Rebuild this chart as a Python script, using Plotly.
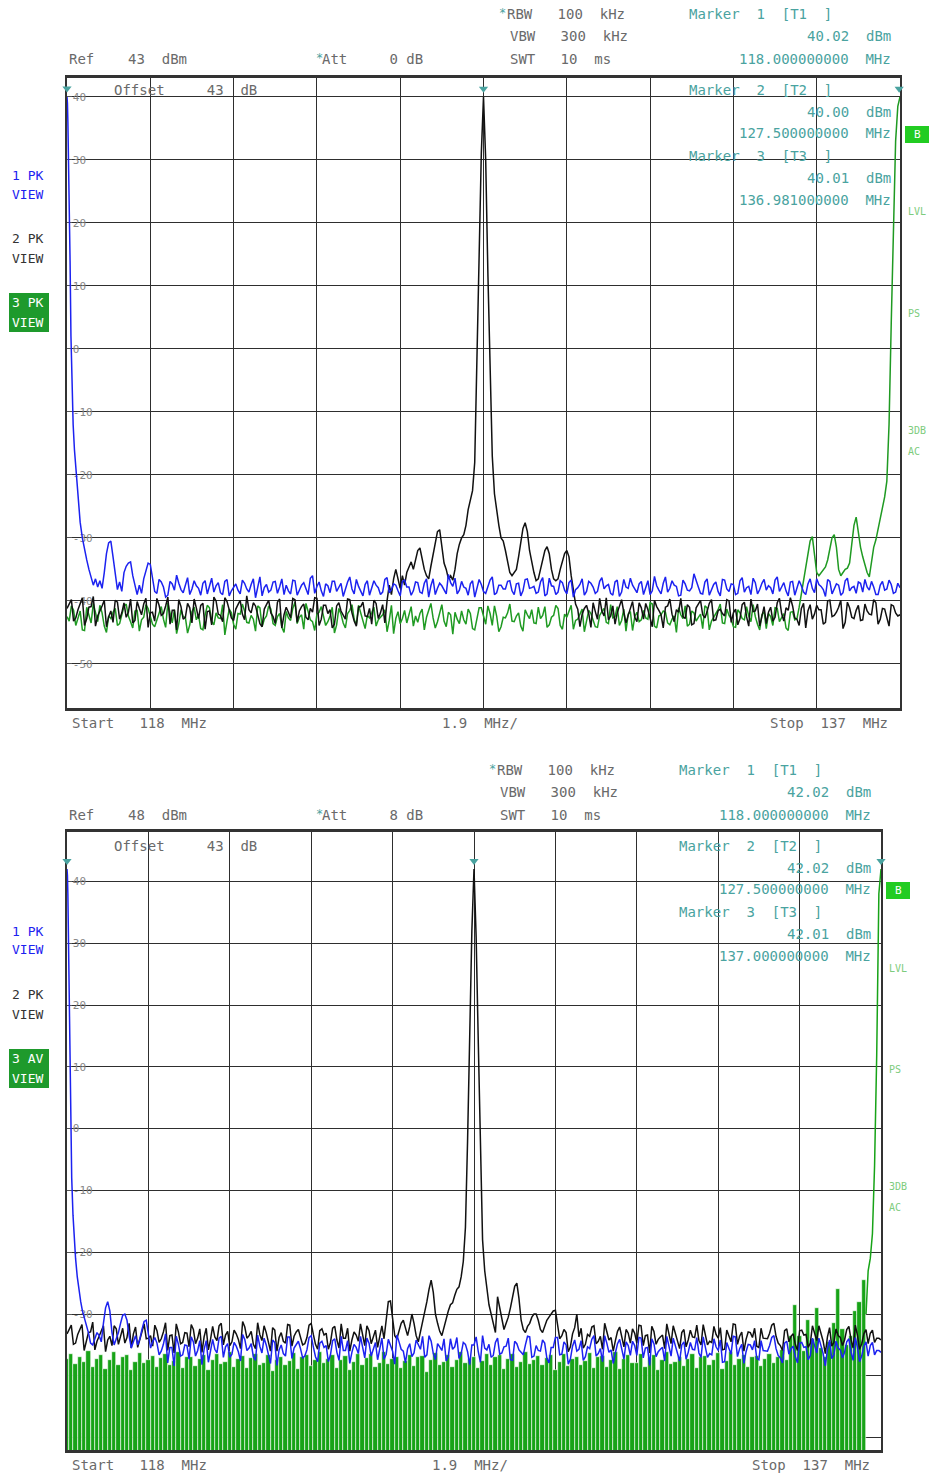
import plotly.graph_objects as go

# ======================= DATA =======================
START_MHZ = 118.0
STOP_MHZ = 137.0

# ---------- upper screen (Ref 43 dBm) : noise floors ----------
# *_floor: one value per 0.1 MHz (118.0 .. 137.0); *_mid: the reading half-way between them
top_blue_floor = [
    -38.2, -37.1, -38.9, -36.8, -37.9, -39.3, -37.4, -38.6, -36.5, -38.1,
    -37.7, -39.0, -36.9, -38.4, -37.2, -38.8, -36.3, -37.9, -39.4, -37.0,
    -38.5, -36.6, -37.8, -39.1, -37.3, -35.9, -38.2, -37.5, -39.0, -36.8,
    -38.0, -37.2, -38.9, -36.4, -37.6, -38.7, -36.9, -39.2, -37.8, -38.3,
    -36.7, -38.1, -37.4, -39.5, -36.2, -37.9, -38.6, -37.0, -38.8, -36.5,
    -37.5, -38.9, -36.8, -38.2, -37.1, -39.0, -36.0, -37.7, -38.4, -37.3,
    -38.7, -36.9, -37.8, -39.3, -37.0, -38.1, -36.6, -38.5, -37.4, -39.1,
    -36.8, -37.9, -38.6, -36.3, -38.2, -37.5, -39.2, -36.7, -37.8, -38.4,
    -37.1, -38.8, -36.5, -37.6, -39.0, -37.2, -38.3, -35.8, -37.7, -38.9,
    -36.9, -38.0, -37.3, -39.4, -36.6, -38.5, -37.8, -36.2, -38.7, -37.5,
    -38.1, -36.8, -39.0, -37.2, -38.4, -36.5, -37.9, -38.8, -37.0, -39.2,
    -36.4, -37.7, -38.6, -37.1, -38.9, -36.7, -38.2, -37.4, -39.1, -36.9,
    -37.8, -38.5, -36.3, -37.6, -38.8, -37.0, -39.3, -36.6, -38.0, -37.5,
    -38.7, -36.9, -37.9, -39.0, -36.1, -38.3, -37.2, -38.6, -36.8, -37.7,
    -39.1, -37.3, -38.4, -35.7, -37.8, -38.9, -36.5, -38.1, -37.0, -39.2,
    -36.7, -38.5, -37.4, -38.8, -36.3, -37.9, -39.0, -37.1, -38.2, -36.6,
    -37.6, -38.9, -36.2, -37.8, -38.4, -37.0, -39.1, -36.8, -38.6, -37.3,
    -38.0, -36.5, -37.7, -39.3, -36.9, -38.2, -37.5, -38.7, -36.4, -37.9,
    -38.8, -37.2, -36.6, -38.3, -37.8, -39.0, -36.9, -38.1, -37.4, -38.6,
    -37.9,
]
top_blue_mid = [
    -37.4, -38.7, -36.9, -39.2, -37.6, -38.1, -36.7, -39.0, -37.8, -38.5,
    -36.6, -38.2, -37.5, -39.3, -36.8, -38.0, -37.3, -38.9, -36.4, -37.9,
    -38.8, -37.0, -39.4, -36.9, -38.3, -37.2, -38.7, -36.3, -38.1, -37.6,
    -39.1, -36.8, -37.7, -38.6, -37.1, -39.0, -36.6, -38.4, -37.3, -38.9,
    -37.2, -38.6, -36.5, -38.0, -39.2, -37.4, -38.3, -36.9, -37.8, -39.0,
    -38.4, -36.7, -39.1, -37.5, -38.2, -36.4, -38.8, -37.0, -39.3, -37.6,
    -36.9, -38.5, -37.2, -38.1, -36.2, -38.9, -37.7, -39.2, -36.8, -38.0,
    -37.5, -39.0, -36.6, -38.7, -37.3, -38.4, -36.9, -37.8, -39.1, -37.0,
    -38.6, -37.2, -39.4, -36.5, -38.0, -37.6, -38.9, -37.1, -36.4, -38.3,
    -37.8, -39.1, -36.8, -38.2, -37.4, -38.8, -36.7, -39.0, -37.5, -38.1,
    -36.9, -38.4, -37.3, -39.2, -36.6, -38.0, -37.7, -38.6, -36.3, -38.9,
    -37.6, -39.0, -36.8, -38.3, -37.1, -39.4, -37.9, -36.5, -38.5, -37.2,
    -38.8, -36.9, -38.1, -37.4, -39.1, -36.7, -38.6, -37.8, -36.4, -38.2,
    -37.3, -39.0, -36.8, -38.4, -37.6, -38.9, -36.2, -38.0, -37.5, -39.2,
    -36.7, -38.3, -37.9, -36.9, -38.8, -37.0, -39.1, -37.4, -38.5, -36.6,
    -38.1, -37.3, -39.0, -36.8, -38.6, -37.7, -36.4, -38.9, -37.2, -38.3,
    -37.9, -36.7, -38.5, -37.1, -39.2, -36.9, -38.0, -37.6, -39.0, -36.5,
    -38.7, -37.4, -38.2, -36.6, -38.9, -37.3, -39.1, -36.8, -38.4, -37.7,
    -37.0, -38.6, -37.8, -36.9, -39.0, -37.5, -38.3, -36.7, -38.8, -37.2,
]
top_black_floor = [
    -41.2, -39.8, -42.7, -40.5, -43.9, -41.0, -39.3, -42.4, -40.8, -44.1,
    -41.6, -39.9, -42.9, -40.3, -41.8, -43.5, -40.1, -42.2, -39.6, -41.9,
    -43.2, -40.7, -42.0, -39.4, -41.5, -44.6, -40.9, -42.6, -41.1, -39.7,
    -42.8, -40.4, -41.7, -43.8, -40.0, -42.3, -39.5, -41.4, -43.1, -40.6,
    -42.1, -39.2, -41.9, -40.8, -43.6, -41.3, -39.9, -42.5, -40.2, -44.3,
    -41.0, -42.7, -39.8, -41.6, -40.5, -43.0, -41.8, -39.6, -42.9, -40.7,
    -41.4, -43.7, -40.3, -42.2, -39.7, -41.9, -44.0, -40.9, -42.4, -41.2,
    -39.9, -42.8, -40.6, -41.5, -43.3, -40.1, -42.0, -39.4, -41.7, -43.9,
    -40.8, -42.3, -41.1, -39.6, -42.6, -40.4, -43.4, -41.3, -40.0, -42.9,
    -41.7, -39.8, -42.4, -40.9, -44.2, -41.0, -42.1, -39.5, -41.8, -43.0,
    -40.6, -42.5, -41.3, -39.9, -43.5, -40.8, -42.2, -41.0, -39.7, -42.8,
    -41.9, -40.2, -43.1, -41.4, -39.8, -42.6, -40.5, -44.1, -41.2, -42.0,
    -40.3, -42.9, -41.6, -39.5, -42.4, -43.7, -40.7, -41.8, -42.3, -40.1,
    -43.3, -41.1, -40.4, -42.7, -39.9, -41.5, -44.3, -40.8, -42.1, -41.4,
    -39.6, -42.8, -41.0, -43.6, -40.5, -42.2, -41.7, -39.8, -43.0, -41.3,
    -42.4, -40.0, -41.9, -43.8, -40.6, -42.5, -39.7, -41.6, -44.0, -40.9,
    -41.8, -43.2, -40.3, -42.0, -41.1, -39.5, -42.7, -43.9, -40.4, -41.6,
    -42.9, -40.7, -41.4, -43.4, -39.9, -42.3, -41.0, -44.4, -40.2, -42.6,
    -41.5, -43.1, -40.5, -42.1, -39.8, -43.7, -41.2, -42.8, -40.6, -41.9,
    -42.2,
]
top_black_mid = [
    -40.6, -43.2, -41.4, -39.5, -42.8, -40.9, -44.0, -41.7, -39.9, -42.5,
    -43.4, -40.2, -41.9, -42.6, -39.7, -43.1, -41.2, -40.5, -44.2, -41.8,
    -39.6, -42.3, -40.8, -43.7, -41.5, -39.8, -42.9, -40.4, -43.5, -41.1,
    -40.7, -44.5, -41.6, -39.4, -42.1, -43.3, -40.1, -42.7, -41.3, -39.9,
    -43.0, -41.4, -40.3, -42.4, -44.1, -40.6, -41.9, -43.6, -39.7, -42.2,
    -41.8, -39.6, -43.4, -40.9, -42.6, -41.2, -39.5, -43.9, -40.7, -42.0,
    -44.3, -40.8, -41.6, -42.9, -39.8, -43.2, -41.0, -40.2, -42.5, -43.7,
    -40.4, -41.9, -43.5, -39.6, -42.3, -41.1, -44.0, -40.6, -42.8, -41.5,
    -39.9, -43.1, -41.7, -42.4, -40.3, -43.8, -41.2, -39.7, -42.6, -40.9,
    -42.9, -41.3, -39.8, -43.6, -40.5, -42.0, -44.4, -41.6, -40.1, -42.7,
    -41.1, -43.3, -40.6, -39.5, -42.2, -41.8, -43.9, -40.4, -42.5, -41.0,
    -43.6, -40.0, -42.8, -41.5, -39.9, -43.2, -41.3, -42.1, -40.7, -44.2,
    -41.7, -39.6, -42.4, -43.0, -40.8, -41.9, -39.8, -43.5, -41.2, -42.6,
    -40.3, -42.9, -41.4, -44.1, -40.9, -42.2, -41.0, -39.7, -43.3, -41.8,
    -42.5, -40.6, -43.8, -41.1, -39.9, -42.7, -40.4, -43.1, -41.6, -42.0,
    -39.8, -43.4, -41.3, -42.8, -40.2, -44.0, -41.7, -40.5, -42.3, -43.6,
    -41.0, -42.6, -39.6, -43.2, -41.5, -40.8, -42.9, -41.2, -44.3, -40.6,
    -42.1, -41.4, -43.7, -40.0, -42.5, -41.8, -39.9, -43.4, -41.1, -42.8,
    -40.7, -43.0, -41.6, -42.2, -40.3, -42.9, -41.3, -44.0, -40.8, -42.4,
]
top_green_floor = [
    -42.5, -40.8, -43.9, -41.6, -44.7, -42.1, -40.4, -43.3, -41.9, -45.0,
    -42.8, -41.2, -43.6, -40.9, -42.4, -44.3, -41.5, -43.0, -40.6, -42.7,
    -44.1, -41.8, -42.9, -40.3, -43.5, -45.2, -41.4, -42.6, -43.8, -41.0,
    -42.2, -44.6, -40.7, -43.2, -41.9, -42.8, -45.4, -41.3, -43.7, -42.0,
    -40.5, -43.4, -42.3, -44.8, -41.1, -42.9, -40.8, -43.6, -42.5, -44.2,
    -41.7, -43.1, -40.2, -42.6, -44.5, -41.6, -43.3, -42.1, -40.9, -43.9,
    -42.4, -45.1, -41.2, -43.5, -42.0, -40.6, -43.8, -41.9, -44.4, -42.7,
    -41.0, -43.0, -42.2, -44.9, -40.7, -42.8, -43.6, -41.5, -42.3, -44.0,
    -43.4, -41.3, -42.6, -40.4, -44.3, -42.1, -43.2, -41.8, -45.3, -42.9,
    -41.6, -43.7, -42.0, -44.6, -41.1, -42.5, -40.8, -43.9, -42.4, -44.1,
    -42.7, -40.5, -43.3, -41.9, -44.8, -42.2, -41.4, -43.6, -42.8, -40.9,
    -43.8, -42.3, -41.2, -44.5, -42.6, -40.7, -43.1, -42.0, -44.9, -41.5,
    -42.9, -44.2, -41.7, -43.4, -40.6, -42.5, -43.9, -41.3, -42.1, -44.7,
    -41.8, -43.0, -42.7, -40.3, -44.0, -42.4, -41.6, -43.5, -42.9, -45.0,
    -42.2, -40.8, -43.7, -41.9, -42.6, -44.4, -41.1, -43.2, -42.0, -40.5,
    -43.6, -42.3, -44.1, -41.4, -42.8, -40.9, -43.3, -42.5, -44.6, -41.7,
    -42.0, -43.9, -41.2, -42.7, -44.3, -41.8, -43.0, -42.4, -40.7, -43.5,
    -42.9, -41.5, -44.2, -42.1, -43.4, -40.6, -42.8, -44.7, -41.9, -43.1,
    -42.3, -44.0, -41.0, -43.6, -42.5, -41.7, -44.5, -42.2, -43.3, -41.4,
    -42.6,
]
top_green_mid = [
    -43.2, -41.5, -42.8, -44.6, -41.0, -43.5, -42.1, -40.7, -44.0, -42.4,
    -41.8, -43.9, -42.2, -40.5, -43.3, -41.6, -44.8, -42.6, -41.2, -43.7,
    -42.9, -40.9, -44.2, -42.0, -41.4, -43.6, -42.5, -45.1, -41.7, -43.0,
    -44.4, -42.3, -41.1, -43.8, -42.7, -40.6, -43.2, -41.9, -44.5, -42.1,
    -41.6, -43.5, -42.9, -40.8, -44.1, -42.4, -41.3, -43.9, -42.0, -45.0,
    -42.7, -41.2, -43.6, -42.2, -40.4, -43.0, -44.7, -41.8, -42.5, -43.3,
    -41.0, -43.8, -42.1, -44.3, -41.5, -42.9, -40.7, -43.4, -42.3, -41.9,
    -44.0, -42.6, -41.4, -43.1, -45.2, -41.7, -42.8, -43.5, -40.9, -42.4,
    -42.0, -44.6, -41.6, -42.7, -43.3, -40.6, -44.1, -42.2, -41.8, -43.6,
    -43.0, -41.3, -44.4, -42.5, -41.1, -43.7, -42.0, -40.8, -44.9, -42.6,
    -41.9, -43.2, -42.4, -44.0, -41.4, -42.8, -43.5, -41.0, -42.3, -44.2,
    -42.6, -40.7, -43.9, -42.1, -41.6, -44.5, -42.9, -41.3, -43.4, -42.0,
    -44.1, -42.3, -41.2, -43.6, -42.7, -40.9, -43.1, -44.8, -41.7, -42.5,
    -43.3, -41.5, -42.9, -40.5, -44.3, -42.2, -41.8, -43.8, -42.4, -41.1,
    -42.8, -44.0, -41.6, -43.2, -42.1, -40.8, -44.6, -42.7, -41.4, -43.5,
    -41.3, -42.9, -44.2, -41.9, -43.0, -42.4, -40.6, -43.7, -42.2, -44.4,
    -42.5, -41.1, -43.3, -42.0, -44.7, -41.7, -42.8, -43.6, -41.5, -42.9,
    -43.9, -42.2, -41.0, -43.4, -42.6, -44.1, -41.8, -42.3, -43.0, -40.9,
    -42.7, -43.5, -41.4, -44.3, -42.1, -41.6, -43.2, -42.8, -44.0, -41.9,
]

# upper screen: signal details (frequency MHz / level dBm)
top_blue_peak_freq = [
    118.00, 118.01, 118.02, 118.03, 118.05, 118.07, 118.09, 118.11, 118.14, 118.17,
    118.20, 118.23, 118.26, 118.30, 118.35, 118.40, 118.45, 118.50, 118.55, 118.60,
    118.65, 118.70, 118.75, 118.80, 118.85, 118.90, 118.95, 119.00, 119.05, 119.10,
    119.15, 119.20, 119.25, 119.30, 119.35, 119.40, 119.45, 119.50, 119.55, 119.60,
    119.65, 119.70, 119.75, 119.80, 119.85, 119.90, 119.95, 120.00,
]
top_blue_peak_level = [
    40.0, 39.0, 36.0, 32.0, 25.0, 14.0, 2.0, -6.0, -12.0, -16.0,
    -19.0, -21.0, -24.0, -27.5, -30.0, -32.0, -33.5, -35.0, -36.5, -37.5,
    -36.5, -37.8, -36.8, -38.0, -35.5, -32.5, -30.8, -30.5, -33.0, -36.0,
    -38.2, -37.0, -38.5, -35.5, -34.5, -34.0, -33.8, -36.0, -37.5, -39.0,
    -37.5, -38.8, -36.5, -35.0, -34.0, -34.2, -36.5, -38.5,
]
top_black_peak_freq = [
    125.30, 125.35, 125.40, 125.45, 125.50, 125.55, 125.60, 125.65, 125.70, 125.75,
    125.80, 125.85, 125.90, 125.95, 126.00, 126.05, 126.10, 126.15, 126.20, 126.25,
    126.30, 126.35, 126.40, 126.45, 126.50, 126.55, 126.60, 126.65, 126.70, 126.75,
    126.80, 126.85, 126.90, 126.95, 127.00, 127.05, 127.10, 127.15, 127.20, 127.25,
    127.30, 127.35, 127.40, 127.45, 127.50, 127.55, 127.60, 127.65, 127.70, 127.75,
    127.80, 127.85, 127.90, 127.95, 128.00, 128.05, 128.10, 128.15, 128.20, 128.25,
    128.30, 128.35, 128.40, 128.45, 128.50, 128.55, 128.60, 128.65, 128.70, 128.75,
    128.80, 128.85, 128.90, 128.95, 129.00, 129.05, 129.10, 129.15, 129.20, 129.25,
    129.30, 129.35, 129.40, 129.45, 129.50, 129.55, 129.60,
]
top_black_peak_level = [
    -40.0, -37.5, -39.0, -36.5, -35.0, -36.8, -38.0, -36.0, -37.5, -35.5,
    -34.5, -33.8, -35.0, -33.5, -32.0, -31.6, -33.5, -35.0, -36.0, -36.5,
    -34.5, -32.5, -30.5, -29.0, -28.7, -31.0, -34.0, -35.0, -36.5, -36.0,
    -36.7, -35.0, -32.5, -31.0, -30.0, -29.5, -28.0, -25.5, -24.0, -22.5,
    -18.0, -3.0, 13.0, 31.0, 40.0, 30.0, 12.0, -4.0, -17.0, -23.0,
    -26.0, -28.0, -30.0, -30.5, -32.0, -34.0, -35.5, -36.0, -35.5, -35.0,
    -33.0, -30.5, -28.5, -27.6, -29.0, -32.0, -34.0, -35.5, -36.8, -36.5,
    -35.0, -33.5, -32.0, -31.4, -32.5, -35.0, -36.5, -36.8, -36.5, -35.0,
    -33.5, -32.5, -32.0, -33.0, -36.0, -38.5, -40.5,
]
top_green_peak_freq = [
    134.70, 134.75, 134.80, 134.85, 134.90, 134.95, 135.00, 135.05, 135.10, 135.15,
    135.20, 135.25, 135.30, 135.35, 135.40, 135.45, 135.50, 135.55, 135.60, 135.65,
    135.70, 135.75, 135.80, 135.85, 135.90, 135.95, 136.00, 136.05, 136.10, 136.15,
    136.20, 136.25, 136.30, 136.35, 136.40, 136.45, 136.50, 136.55, 136.60, 136.65,
    136.70, 136.75, 136.80, 136.85, 136.90, 136.95, 137.00,
]
top_green_peak_level = [
    -41.0, -39.0, -37.0, -35.0, -33.0, -30.5, -29.8, -32.5, -35.5, -36.0,
    -35.5, -35.0, -34.6, -33.5, -31.5, -30.0, -29.5, -31.5, -35.0, -36.0,
    -35.5, -35.0, -34.8, -34.0, -31.0, -28.0, -26.7, -29.0, -31.5, -33.0,
    -34.5, -35.5, -36.2, -34.0, -31.5, -30.3, -28.5, -27.0, -25.5, -23.5,
    -21.0, -12.0, 4.0, 20.0, 33.0, 38.5, 40.0,
]

# ---------- lower screen (Ref 48 dBm) ----------
bot_blue_floor = [
    -35.2, -33.8, -36.9, -34.5, -37.6, -35.0, -33.4, -36.2, -34.8, -38.1,
    -35.6, -33.9, -36.5, -34.2, -35.8, -37.9, -34.0, -36.4, -33.5, -35.9,
    -37.2, -34.7, -36.0, -33.2, -35.4, -38.4, -34.9, -36.6, -35.1, -33.7,
    -36.8, -34.3, -35.7, -37.8, -34.1, -36.3, -33.6, -35.3, -37.0, -34.6,
    -36.1, -33.3, -35.9, -34.8, -37.5, -35.2, -33.9, -36.7, -34.2, -38.3,
    -35.0, -36.8, -33.7, -35.5, -34.4, -37.1, -35.8, -33.5, -36.9, -34.7,
    -35.4, -37.7, -34.3, -36.2, -33.6, -35.9, -38.0, -34.9, -36.4, -35.1,
    -33.9, -36.8, -34.6, -35.5, -37.3, -34.1, -36.0, -33.4, -35.7, -37.9,
    -34.8, -36.3, -35.1, -33.6, -36.6, -34.4, -37.4, -35.3, -34.0, -36.9,
    -35.7, -33.8, -36.4, -34.9, -38.2, -35.0, -36.1, -33.5, -35.8, -37.0,
    -34.6, -36.5, -35.3, -33.9, -37.5, -34.8, -36.2, -35.0, -33.7, -36.8,
    -35.9, -34.2, -37.1, -35.4, -33.8, -36.6, -34.5, -38.1, -35.2, -36.0,
    -34.3, -36.9, -35.6, -33.5, -36.4, -37.7, -34.7, -35.8, -36.3, -34.1,
    -37.3, -35.1, -34.4, -36.7, -33.9, -35.5, -38.3, -34.8, -36.1, -35.4,
    -33.6, -36.8, -35.0, -37.6, -34.5, -36.2, -35.7, -33.8, -37.0, -35.3,
    -36.4, -34.0, -35.9, -37.8, -34.6, -36.5, -33.7, -35.6, -38.0, -34.9,
    -35.8, -37.2, -34.3, -36.0, -35.1, -33.5, -36.7, -37.9, -34.4, -35.6,
    -36.9, -34.7, -35.4, -37.4, -33.9, -36.3, -35.0, -38.4, -34.2, -36.6,
    -35.5, -37.1, -34.5, -36.1, -33.8, -37.7, -35.2, -36.8, -34.6, -35.9,
    -36.2,
]
bot_blue_mid = [
    -34.6, -36.9, -35.3, -33.7, -36.4, -34.9, -37.8, -35.6, -33.9, -36.2,
    -37.1, -34.4, -35.8, -36.7, -33.5, -35.2, -37.4, -34.7, -36.0, -35.5,
    -33.8, -36.6, -34.9, -37.9, -35.4, -33.6, -36.8, -35.0, -37.3, -34.5,
    -35.9, -38.2, -34.3, -36.1, -35.7, -33.9, -37.0, -34.8, -36.5, -35.2,
    -37.6, -34.1, -35.5, -36.9, -33.4, -36.3, -35.0, -38.0, -34.6, -35.8,
    -36.4, -33.7, -37.2, -34.9, -35.6, -36.8, -33.8, -35.3, -37.7, -34.4,
    -35.1, -36.6, -34.0, -37.5, -35.9, -34.3, -36.2, -35.4, -33.6, -37.1,
    -34.7, -35.8, -37.4, -33.9, -36.5, -35.1, -38.1, -34.5, -36.0, -35.6,
    -36.9, -34.2, -35.7, -37.0, -33.5, -36.4, -34.8, -35.9, -37.6, -34.0,
    -35.3, -37.2, -34.6, -36.1, -35.0, -33.7, -37.8, -35.5, -34.9, -36.7,
    -33.9, -36.3, -35.2, -37.4, -34.4, -35.8, -36.6, -33.6, -37.0, -35.1,
    -36.0, -34.7, -37.9, -35.4, -33.8, -36.5, -35.0, -37.3, -34.2, -35.7,
    -37.5, -35.3, -34.1, -36.8, -35.6, -33.5, -36.2, -38.0, -34.8, -35.9,
    -34.5, -36.7, -35.1, -33.8, -37.1, -35.4, -34.0, -36.9, -35.7, -37.6,
    -35.2, -33.9, -36.4, -35.0, -37.3, -34.6, -35.8, -36.3, -33.7, -37.0,
    -36.6, -35.3, -34.2, -37.7, -35.5, -33.6, -36.9, -34.9, -36.1, -35.0,
    -34.3, -37.4, -35.9, -36.0, -33.8, -35.6, -37.1, -34.7, -36.5, -35.2,
    -37.9, -34.6, -35.3, -36.7, -35.0, -33.9, -36.4, -35.7, -37.2, -34.4,
    -35.8, -36.2, -34.0, -37.5, -35.4, -36.8, -34.5, -35.1, -36.6, -35.9,
]
bot_black_floor = [
    -33.2, -31.8, -34.7, -32.5, -35.9, -33.0, -31.3, -34.4, -32.8, -36.1,
    -33.6, -31.9, -34.9, -32.3, -33.8, -35.5, -32.1, -34.2, -31.6, -33.9,
    -35.2, -32.7, -34.0, -31.4, -33.5, -36.3, -32.9, -34.6, -33.1, -31.7,
    -34.8, -32.4, -33.7, -35.8, -32.0, -34.3, -31.5, -33.4, -35.1, -32.6,
    -34.1, -31.2, -33.9, -32.8, -35.6, -33.3, -31.9, -34.5, -32.2, -36.0,
    -33.0, -34.7, -31.8, -33.6, -32.5, -35.0, -33.8, -31.5, -34.9, -32.7,
    -33.4, -35.7, -32.3, -34.2, -31.6, -33.9, -36.0, -32.9, -34.4, -33.1,
    -31.9, -34.8, -32.6, -33.5, -35.3, -32.1, -34.0, -31.4, -33.7, -35.9,
    -32.8, -34.3, -33.1, -31.6, -34.6, -32.4, -35.4, -33.3, -32.0, -34.9,
    -33.7, -31.8, -34.4, -32.9, -36.2, -33.0, -34.1, -31.5, -33.8, -35.0,
    -32.6, -34.5, -33.3, -31.9, -35.5, -32.8, -34.2, -33.0, -31.7, -34.8,
    -33.9, -32.2, -35.1, -33.4, -31.8, -34.6, -32.5, -36.1, -33.2, -30.0,
    -32.3, -34.9, -33.6, -31.9, -34.4, -35.7, -32.7, -33.8, -34.3, -32.1,
    -35.3, -33.1, -32.4, -34.7, -31.9, -33.5, -36.3, -32.8, -34.1, -33.4,
    -31.6, -34.8, -33.0, -35.6, -32.5, -34.2, -33.7, -31.8, -35.0, -33.3,
    -34.4, -32.0, -33.9, -35.8, -32.6, -34.5, -31.7, -33.6, -36.0, -32.9,
    -33.8, -35.2, -32.3, -34.0, -33.1, -31.5, -34.7, -35.9, -32.4, -33.6,
    -34.9, -32.7, -33.4, -35.4, -31.9, -34.3, -33.0, -36.4, -32.2, -34.6,
    -33.5, -35.1, -32.5, -34.1, -31.8, -35.7, -33.2, -34.8, -32.6, -33.9,
    -34.2,
]
bot_black_mid = [
    -32.6, -34.9, -33.3, -31.7, -34.4, -32.9, -35.8, -33.6, -31.9, -34.2,
    -35.1, -32.4, -33.8, -34.7, -31.5, -33.2, -35.4, -32.7, -34.0, -33.5,
    -31.8, -34.6, -32.9, -35.9, -33.4, -31.6, -34.8, -33.0, -35.3, -32.5,
    -33.9, -36.2, -32.3, -34.1, -33.7, -31.9, -35.0, -32.8, -34.5, -33.2,
    -35.6, -32.1, -33.5, -34.9, -31.4, -34.3, -33.0, -36.0, -32.6, -33.8,
    -34.4, -31.7, -35.2, -32.9, -33.6, -34.8, -31.8, -33.3, -35.7, -32.4,
    -33.1, -34.6, -32.0, -35.5, -33.9, -32.3, -34.2, -33.4, -31.6, -35.1,
    -32.7, -33.8, -35.4, -31.9, -34.5, -33.1, -36.1, -32.5, -34.0, -33.6,
    -34.9, -32.2, -33.7, -35.0, -31.5, -34.4, -32.8, -33.9, -35.6, -32.0,
    -33.3, -35.2, -32.6, -34.1, -33.0, -31.7, -35.8, -33.5, -32.9, -34.7,
    -31.9, -34.3, -33.2, -35.4, -32.4, -33.8, -34.6, -31.6, -35.0, -33.1,
    -34.0, -32.7, -35.9, -33.4, -31.8, -34.5, -33.0, -35.3, -32.2, -33.7,
    -35.5, -33.3, -32.1, -34.8, -33.6, -31.5, -34.2, -36.0, -32.8, -33.9,
    -32.5, -34.7, -33.1, -31.8, -35.1, -33.4, -32.0, -34.9, -33.7, -35.6,
    -33.2, -31.9, -34.4, -33.0, -35.3, -32.6, -33.8, -34.3, -31.7, -35.0,
    -34.6, -33.3, -32.2, -35.7, -33.5, -31.6, -34.9, -32.9, -34.1, -33.0,
    -32.3, -35.4, -33.9, -34.0, -31.8, -33.6, -35.1, -32.7, -34.5, -33.2,
    -35.9, -32.6, -33.3, -34.7, -33.0, -31.9, -34.4, -33.7, -35.2, -32.4,
    -33.8, -34.2, -32.0, -35.5, -33.4, -34.8, -32.5, -33.1, -34.6, -33.9,
]
# trace 3 (AV detector): upper envelope per 0.1 MHz, 118.0 .. 136.6 MHz
bot_green_av_top = [
    -37.2, -36.4, -38.1, -36.9, -37.8, -36.0, -38.5, -37.3, -36.7, -38.9,
    -37.5, -36.2, -38.3, -37.0, -36.6, -39.1, -37.7, -36.3, -38.0, -37.4,
    -36.8, -38.6, -37.1, -36.5, -38.2, -37.6, -36.1, -38.8, -37.0, -36.9,
    -38.4, -37.2, -36.7, -39.0, -37.5, -36.4, -38.1, -37.8, -36.2, -38.6,
    -37.3, -36.8, -38.7, -37.1, -36.5, -38.3, -37.9, -36.6, -39.2, -37.4,
    -36.9, -38.2, -37.6, -36.3, -38.9, -37.0, -36.7, -38.4, -37.5, -36.1,
    -38.0, -37.2, -36.6, -38.8, -37.4, -36.8, -39.0, -37.7, -36.4, -38.3,
    -37.1, -36.5, -38.6, -37.9, -36.2, -38.1, -37.3, -36.9, -38.7, -37.6,
    -36.6, -38.4, -37.0, -36.8, -39.3, -37.5, -36.3, -38.2, -37.8, -36.7,
    -38.5, -37.4, -36.1, -38.0, -37.2, -36.9, -38.8, -37.6, -36.5, -38.3,
    -37.0, -36.7, -38.9, -37.3, -36.4, -38.6, -37.8, -36.2, -38.1, -37.5,
    -36.8, -38.3, -37.1, -36.6, -39.1, -37.7, -36.5, -38.4, -37.2, -36.9,
    -38.2, -37.6, -36.3, -38.7, -37.0, -36.8, -38.5, -37.4, -36.1, -38.9,
    -37.3, -36.6, -38.0, -37.9, -36.4, -38.6, -37.1, -36.7, -39.0, -37.5,
    -36.2, -38.1, -37.7, -36.9, -38.4, -37.2, -36.5, -38.8, -37.0, -36.8,
    -38.3, -37.5, -36.3, -38.9, -37.6, -36.1, -38.2, -37.3, -36.6, -38.5,
    -37.0, -36.8, -38.4, -37.2, -36.5, -38.0, -36.9, -35.8, -37.5, -33.5,
    -28.5, -33.5, -36.0, -31.0, -34.0, -29.0, -35.5, -37.0, -34.5, -31.5,
    -26.0, -32.5, -35.0, -33.5, -29.5, -28.0, -24.5,
]
# AV trace: steep edge at the stop frequency
bot_green_edge_freq = [136.65, 136.70, 136.75, 136.80, 136.85, 136.90, 136.95, 137.00]
bot_green_edge_level = [-30.0, -23.0, -21.0, -17.0, -6.0, 12.0, 38.0, 42.0]

bot_blue_peak_freq = [
    118.00, 118.01, 118.02, 118.03, 118.05, 118.07, 118.09, 118.11, 118.14, 118.17,
    118.20, 118.24, 118.28, 118.32, 118.36, 118.40, 118.45, 118.50, 118.55, 118.60,
    118.65, 118.70, 118.75, 118.80, 118.85, 118.90, 118.95, 119.00, 119.05, 119.10,
    119.15, 119.20, 119.25, 119.30, 119.35, 119.40, 119.45, 119.50, 119.55, 119.60,
    119.65, 119.70, 119.75, 119.80, 119.85, 119.90, 119.95, 120.00,
]
bot_blue_peak_level = [
    42.0, 41.0, 38.0, 33.0, 25.0, 12.0, 0.0, -8.0, -14.0, -18.0,
    -21.0, -24.0, -26.5, -28.0, -29.5, -30.5, -31.5, -33.0, -34.7, -35.0,
    -34.0, -33.0, -33.5, -34.5, -31.5, -29.0, -28.0, -29.5, -33.0, -35.0,
    -34.0, -33.0, -31.5, -30.2, -30.0, -31.0, -33.5, -35.5, -34.5, -33.5,
    -35.0, -34.0, -32.5, -31.2, -31.0, -33.0, -35.5, -34.5,
]
bot_black_peak_freq = [
    125.40, 125.45, 125.50, 125.55, 125.60, 125.65, 125.70, 125.75, 125.80, 125.85,
    125.90, 125.95, 126.00, 126.05, 126.10, 126.15, 126.20, 126.25, 126.30, 126.35,
    126.40, 126.45, 126.50, 126.55, 126.60, 126.65, 126.70, 126.75, 126.80, 126.85,
    126.90, 126.95, 127.00, 127.05, 127.10, 127.15, 127.20, 127.25, 127.30, 127.35,
    127.40, 127.45, 127.50, 127.55, 127.60, 127.65, 127.70, 127.75, 127.80, 127.85,
    127.90, 127.95, 128.00, 128.05, 128.10, 128.15, 128.20, 128.25, 128.30, 128.35,
    128.40, 128.45, 128.50, 128.55, 128.60, 128.65, 128.70, 128.75, 128.80, 128.85,
    128.90, 128.95, 129.00, 129.05, 129.10, 129.15, 129.20, 129.25, 129.30, 129.35,
    129.40, 129.45, 129.50, 129.55, 129.60,
]
bot_black_peak_level = [
    -34.0, -31.0, -28.0, -27.9, -30.5, -33.5, -34.0, -32.5, -31.5, -31.0,
    -32.5, -33.5, -32.0, -30.0, -31.5, -33.5, -34.5, -33.0, -31.5, -30.0,
    -28.0, -26.0, -24.5, -26.5, -30.0, -31.5, -32.8, -33.5, -32.0, -30.5,
    -29.5, -28.5, -28.2, -27.0, -26.0, -25.6, -24.0, -21.5, -16.0, -2.0,
    15.0, 32.0, 42.0, 31.0, 14.0, -4.0, -18.0, -23.0, -26.0, -28.5,
    -30.0, -31.5, -33.0, -27.2, -29.0, -31.0, -32.5, -31.5, -30.5, -29.0,
    -27.5, -25.5, -25.0, -27.5, -31.0, -32.5, -33.0, -32.0, -31.5, -30.5,
    -30.0, -30.0, -31.0, -32.5, -33.0, -32.0, -31.0, -30.5, -30.0, -29.5,
    -29.4, -31.5, -34.0, -33.5, -32.5,
]

# marker read-outs
top_marker_freq = [118.0, 127.5, 136.981]
top_marker_level = [40.02, 40.00, 40.01]
bot_marker_freq = [118.0, 127.5, 137.0]
bot_marker_level = [42.02, 42.02, 42.01]

# axis settings
top_ref_level = 43
bot_ref_level = 48
db_per_div = 10
mhz_per_div = 1.9
y_tick_values = [-50, -40, -30, -20, -10, 0, 10, 20, 30, 40]


# ======================= helpers =======================
def merge(floor, mid, pk_f, pk_l):
    n = len(floor)
    step = (STOP_MHZ - START_MHZ) / (n - 1)
    samples = [(START_MHZ + i * step, v) for i, v in enumerate(floor)]
    samples += [(START_MHZ + (i + 0.5) * step, v) for i, v in enumerate(mid)]
    lo, hi = min(pk_f), max(pk_f)
    pts = [(f, v) for f, v in samples if f < lo - 1e-9 or f > hi + 1e-9]
    pts += list(zip(pk_f, pk_l))
    pts.sort()
    return [p[0] for p in pts], [p[1] for p in pts]


W, H = 930, 1475
BLUE = "#1c22f0"
BLACK = "#111111"
GREEN = "#1f9a22"
GREEN_AV = "#17a317"
TEAL = "#4aa3a0"
HDR = "#6a6a6a"
LGREEN = "#7dcc7d"
FONT = "DejaVu Sans Mono"

fig = go.Figure()


def add_line(x, y, color, axis, width=1.5):
    fig.add_trace(go.Scatter(x=x, y=y, mode="lines", line=dict(color=color, width=width),
                             xaxis="x" + axis, yaxis="y" + axis, showlegend=False,
                             hoverinfo="skip"))


# ---- upper screen traces ----
add_line(*merge(top_green_floor, top_green_mid, top_green_peak_freq, top_green_peak_level), GREEN, "")
add_line(*merge(top_black_floor, top_black_mid, top_black_peak_freq, top_black_peak_level), BLACK, "")
add_line(*merge(top_blue_floor, top_blue_mid, top_blue_peak_freq, top_blue_peak_level), BLUE, "")
fig.add_trace(go.Scatter(x=top_marker_freq, y=[v + 1.3 for v in top_marker_level], mode="markers",
                         marker=dict(symbol="triangle-down", size=8, color=TEAL),
                         xaxis="x", yaxis="y", showlegend=False, cliponaxis=False))

# ---- lower screen traces ----
bot_floor_level = bot_ref_level - 10 * db_per_div - 8
n_av = len(bot_green_av_top)
av_freq = [START_MHZ + 0.1 * i for i in range(n_av)]
fig.add_trace(go.Bar(x=av_freq, y=[v - bot_floor_level for v in bot_green_av_top],
                     base=bot_floor_level, width=0.1,
                     marker=dict(color=GREEN_AV, line=dict(width=0.6, color="white")),
                     xaxis="x2", yaxis="y2", showlegend=False, hoverinfo="skip"))
add_line(bot_green_edge_freq, bot_green_edge_level, GREEN_AV, "2", width=1.5)
add_line(*merge(bot_black_floor, bot_black_mid, bot_black_peak_freq, bot_black_peak_level), BLACK, "2")
add_line(*merge(bot_blue_floor, bot_blue_mid, bot_blue_peak_freq, bot_blue_peak_level), BLUE, "2")
fig.add_trace(go.Scatter(x=bot_marker_freq, y=[v + 1.3 for v in bot_marker_level], mode="markers",
                         marker=dict(symbol="triangle-down", size=8, color=TEAL),
                         xaxis="x2", yaxis="y2", showlegend=False, cliponaxis=False))


def px_dom_x(a, b):
    return [a / W, b / W]


def px_dom_y(top, bottom):
    return [1 - bottom / H, 1 - top / H]


def xaxis_style(dom, anchor):
    return dict(domain=dom, anchor=anchor, range=[START_MHZ, STOP_MHZ], tick0=START_MHZ,
                dtick=mhz_per_div, showgrid=True, gridcolor="#2e2e2e", gridwidth=1.2,
                showticklabels=False, ticks="", zeroline=False, showline=True,
                linecolor="#333333", linewidth=2.5, mirror=True, fixedrange=True)


def yaxis_style(dom, anchor, ref):
    return dict(domain=dom, anchor=anchor, range=[ref - 10 * db_per_div, ref],
                tickvals=y_tick_values, ticktext=[str(v) for v in y_tick_values],
                ticklabelposition="inside", ticks="inside", ticklen=5, tickcolor="#555",
                tickfont=dict(family=FONT, size=11, color="#888888"),
                showgrid=True, gridcolor="#2e2e2e", gridwidth=1.2, zeroline=False,
                showline=True, linecolor="#333333", linewidth=2, mirror=True,
                layer="below traces", fixedrange=True)


fig.update_layout(
    width=W, height=H, autosize=False,
    margin=dict(l=0, r=0, t=0, b=0),
    paper_bgcolor="white", plot_bgcolor="white",
    bargap=0,
    xaxis=xaxis_style(px_dom_x(67, 900), "y"),
    yaxis=yaxis_style(px_dom_y(78, 708), "x", top_ref_level),
    xaxis2=xaxis_style(px_dom_x(67, 881), "y2"),
    yaxis2=yaxis_style(px_dom_y(832, 1450), "x2", bot_ref_level),
)

annotations = []
shapes = []


def txt(x, y, s, color=HDR, anchor="left", size=14):
    annotations.append(dict(x=x / W, y=1 - y / H, xref="paper", yref="paper", text=s,
                            showarrow=False, xanchor=anchor, yanchor="middle",
                            font=dict(family=FONT, size=size, color=color)))


def box(x0, y0, x1, y1, color):
    shapes.append(dict(type="rect", xref="paper", yref="paper", x0=x0 / W, x1=x1 / W,
                       y0=1 - y1 / H, y1=1 - y0 / H, fillcolor=color, line=dict(width=0),
                       layer="below"))


def screen_text(dy, xr, ref, att, m_lvls, m_freqs, trace3, box_x, xs):
    # header
    txt(xs - 8, dy + 13, "*", TEAL, size=12)
    txt(xs, dy + 14, "RBW   100  kHz")
    txt(xs + 3, dy + 36, "VBW   300  kHz")
    txt(xs + 3, dy + 59, "SWT   10  ms")
    txt(67, dy + 59, "Ref    %d  dBm" % ref)
    txt(314, dy + 58, "*", TEAL, size=12)
    txt(320, dy + 59, "Att     %d dB" % att)
    txt(xs + 182, dy + 14, "Marker  1  [T1  ]", TEAL)
    txt(xr, dy + 36, "%.2f  dBm" % m_lvls[0], TEAL, "right")
    txt(xr, dy + 59, "%.9f  MHz" % m_freqs[0], TEAL, "right")
    # inside screen
    txt(112, dy + 90, "Offset     43  dB")
    txt(xs + 182, dy + 90, "Marker  2  [T2  ]", TEAL)
    txt(xr, dy + 112, "%.2f  dBm" % m_lvls[1], TEAL, "right")
    txt(xr, dy + 133, "%.9f  MHz" % m_freqs[1], TEAL, "right")
    txt(xs + 182, dy + 156, "Marker  3  [T3  ]", TEAL)
    txt(xr, dy + 178, "%.2f  dBm" % m_lvls[2], TEAL, "right")
    txt(xr, dy + 200, "%.9f  MHz" % m_freqs[2], TEAL, "right")
    # left trace labels
    txt(10, dy + 175, "1 PK", BLUE, size=13)
    txt(10, dy + 194, "VIEW", BLUE, size=13)
    txt(10, dy + 238, "2 PK", "#333333", size=13)
    txt(10, dy + 258, "VIEW", "#333333", size=13)
    box(9, dy + 293, 49, dy + 332, "#1e9a2c")
    txt(10, dy + 302, trace3, "white", size=13)
    txt(10, dy + 322, "VIEW", "white", size=13)
    # right side status
    box(box_x, dy + 126, box_x + 24, dy + 143, "#22cc22")
    txt(box_x + 12, dy + 134, "B", "white", "center", size=11)
    txt(box_x + 1, dy + 212, "LVL", LGREEN, size=10)
    txt(box_x + 1, dy + 313, "PS", LGREEN, size=10)
    txt(box_x + 1, dy + 430, "3DB", LGREEN, size=10)
    txt(box_x + 1, dy + 451, "AC", LGREEN, size=10)


screen_text(0, 893, top_ref_level, 0, top_marker_level, top_marker_freq, "3 PK", 905, 505)
screen_text(756, 873, bot_ref_level, 8, bot_marker_level, bot_marker_freq, "3 AV", 886, 495)

txt(70, 723, "Start   118  MHz")
txt(440, 723, "1.9  MHz/")
txt(890, 723, "Stop  137  MHz", anchor="right")
txt(70, 1465, "Start   118  MHz")
txt(430, 1465, "1.9  MHz/")
txt(872, 1465, "Stop  137  MHz", anchor="right")

fig.update_layout(annotations=annotations, shapes=shapes)
fig.write_html("out.html", config={"displayModeBar": False},
               post_script="document.body.style.margin='0px';document.body.style.padding='0px';")
